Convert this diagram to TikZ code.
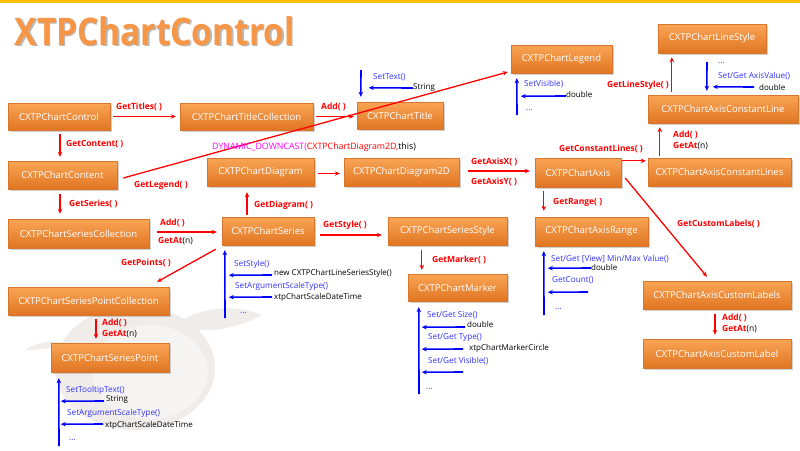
\documentclass[tikz,border=0pt]{standalone}
\usepackage{fontspec}
\usepackage{graphicx}
\setmainfont{Open Sans}
\usetikzlibrary{arrows.meta,shadows}
\definecolor{boxtop}{HTML}{F9A555}
\definecolor{boxbot}{HTML}{E07522}
\definecolor{boxline}{HTML}{D8762E}
\definecolor{rd}{HTML}{FF0000}
\definecolor{bl}{HTML}{0000FF}
\definecolor{bltext}{HTML}{3333FF}
\definecolor{mag}{HTML}{FF00FF}
\definecolor{gold}{HTML}{FFC000}
\definecolor{ttl}{HTML}{F79646}
\definecolor{apple}{HTML}{EFECEA}
\definecolor{applein}{HTML}{F6F4F3}
\tikzset{
 box/.style={rectangle, draw=boxline, line width=0.4pt, top color=boxtop, bottom color=boxbot, text=white,
   font=\fontsize{9.5}{11}\selectfont, inner sep=0pt,
   drop shadow={shadow xshift=1.5pt, shadow yshift=-1.5pt, opacity=0.35}},
 rarr/.style={draw=rd, line width=1.3pt, -{Stealth[length=5pt,width=4.5pt]}},
 barr/.style={draw=bl, line width=1.6pt, -{Stealth[length=5pt,width=4.5pt]}},
 rlab/.style={text=rd, font=\bfseries\fontsize{8.5}{10}\selectfont, inner sep=0pt, anchor=west},
 blab/.style={text=bltext, font=\fontsize{8.2}{9}\selectfont, inner sep=0pt, anchor=west},
 klab/.style={text=black, font=\fontsize{8}{9}\selectfont, inner sep=0pt, anchor=west},
 ttlstyle/.style={anchor=west, font=\bfseries\fontsize{38}{40}\selectfont, inner sep=0pt},
}
\newcommand{\getat}{\textcolor{rd}{GetAt}{\mdseries\color{black}(n)}}
\begin{document}
\begin{tikzpicture}[x=1pt,y=-1pt]
\useasboundingbox (0,0) rectangle (800,450);
\fill[white] (0,0) rectangle (800,450);
\fill[gold] (0,0) rectangle (800,2.5);
% faint background apple
\fill[apple] (135,368) ellipse [x radius=80, y radius=62];
\fill[applein] (150,372) ellipse [x radius=58, y radius=47];
\fill[apple] (175,325) .. controls (200,305) and (240,305) .. (262,315) .. controls (235,330) and (200,335) .. (175,325);
\fill[apple] (25,350) .. controls (40,340) and (60,340) .. (70,345) .. controls (55,347) and (40,350) .. (25,350);
% title
\node[ttlstyle, text=gray!55] (tshadow) at (16,32.5) {\scalebox{0.88}[1]{XTPChartControl}};
\node[ttlstyle, text=ttl] (maintitle) at (14.5,31) {\scalebox{0.88}[1]{XTPChartControl}};
% nodes
\node[box, minimum width=102, minimum height=27] (ctrl) at (59,116.5) {CXTPChartControl};
\node[box, minimum width=133, minimum height=27] (tcol) at (246.5,116.5) {CXTPChartTitleCollection};
\node[box, minimum width=86, minimum height=27] (title) at (400,115.5) {CXTPChartTitle};
\node[box, minimum width=101, minimum height=28] (legend) at (561.5,59) {CXTPChartLegend};
\node[box, minimum width=108, minimum height=29] (lstyle) at (712,38.5) {CXTPChartLineStyle};
\node[box, minimum width=150, minimum height=28] (cline) at (723,109) {CXTPChartAxisConstantLine};
\node[box, minimum width=109, minimum height=28] (content) at (62.5,175) {CXTPChartContent};
\node[box, minimum width=107, minimum height=28] (diagram) at (260.5,172) {CXTPChartDiagram};
\node[box, minimum width=115, minimum height=28] (diag2d) at (401.5,172) {CXTPChartDiagram2D};
\node[box, minimum width=86, minimum height=29] (axis) at (578,172.5) {CXTPChartAxis};
\node[box, minimum width=143, minimum height=28] (clines) at (719.5,172) {CXTPChartAxisConstantLines};
\node[box, minimum width=141, minimum height=29] (scol) at (78.5,233.5) {CXTPChartSeriesCollection};
\node[box, minimum width=92, minimum height=28] (series) at (268,231) {CXTPChartSeries};
\node[box, minimum width=119, minimum height=28] (sstyle) at (447.5,231.5) {CXTPChartSeriesStyle};
\node[box, minimum width=113, minimum height=29] (range) at (591.5,231.5) {CXTPChartAxisRange};
\node[box, minimum width=161, minimum height=28] (spcol) at (88.5,301) {CXTPChartSeriesPointCollection};
\node[box, minimum width=99, minimum height=27] (marker) at (457.5,287.5) {CXTPChartMarker};
\node[box, minimum width=148, minimum height=28] (clabels) at (717,295) {CXTPChartAxisCustomLabels};
\node[box, minimum width=118, minimum height=29] (spoint) at (110,357.5) {CXTPChartSeriesPoint};
\node[box, minimum width=148, minimum height=29] (clabel) at (717,353.5) {CXTPChartAxisCustomLabel};
% red connectors
\draw[rarr] ([shift={(3,0)}]ctrl.east) -- ([shift={(-4,0)}]tcol.west);
\node[rlab] (l1) at (116,107) {GetTitles( )};
\draw[rarr] ([shift={(3,0)}]tcol.east) -- ([shift={(-3,1)}]title.west);
\node[rlab] (l2) at (321,107) {Add( )};
\draw[rarr] ([shift={(1,4)}]ctrl.south) -- ([shift={(-2.5,-4)}]content.north);
\node[rlab] (l3) at (66,144) {GetContent( )};
\draw[rarr] ([shift={(6,3)}]content.east) -- ([shift={(-3,13)}]legend.west);
\node[rlab] (l4) at (134,185) {GetLegend( )};
\draw[rarr] ([shift={(-2.5,5)}]content.south) -- ([shift={(-18.5,-5)}]scol.north);
\node[rlab] (l5) at (69,204) {GetSeries( )};
\draw[rarr] ([shift={(8,-1.5)}]scol.east) -- ([shift={(-5,1)}]series.west);
\node[rlab] (l6a) at (160,223) {Add( )};
\node[rlab] (l6b) at (158,241) {\getat};
\draw[rarr] ([shift={(-21,-2)}]series.north) -- ([shift={(-13.5,6)}]diagram.south);
\node[rlab] (l7) at (254,205) {GetDiagram( )};
\draw[rarr] ([shift={(4,1.5)}]diagram.east) -- ([shift={(-4,1.5)}]diag2d.west);
\node[anchor=west, inner sep=0pt, font=\fontsize{8.8}{10}\selectfont] (dyn) at (212,147)
  {\textcolor{mag}{DYNAMIC\_DOWNCAST(}\textcolor{rd}{CXTPChartDiagram2D,}this)};
\draw[rarr] ([shift={(9,-1)}]diag2d.east) -- ([shift={(-5,-1.5)}]axis.west);
\node[rlab] (l10a) at (471,162) {GetAxisX( )};
\node[rlab] (l10b) at (471,182) {GetAxisY( )};
\draw[rarr] ([shift={(9,4)}]axis.south west) -- ([shift={(9,-6)}]range.north west);
\node[rlab] (l11) at (553,202) {GetRange( )};
\draw[rarr] ([shift={(1,3)}]axis.north east) -- ([shift={(-2,3)}]clines.north west);
\node[rlab] (l12) at (559,149) {GetConstantLines( )};
\draw[rarr] ([shift={(12,-2)}]clines.north west) -- ([shift={(12,4)}]cline.south west);
\node[rlab] (l13a) at (673,135) {Add( )};
\node[rlab] (l13b) at (673,146) {\getat};
\draw[rarr] ([shift={(24,-3)}]cline.north west) -- ([shift={(14,4)}]lstyle.south west);
\node[rlab, anchor=east] (l14) at (669,85) {GetLineStyle( )};
\draw[rarr] ([shift={(4,5.5)}]axis.east) -- ([shift={(-10,-4)}]clabels.north);
\node[rlab] (l15) at (677,224) {GetCustomLabels( )};
\draw[rarr] ([shift={(-2,5)}]clabels.south) -- ([shift={(-2,-4)}]clabel.north);
\node[rlab] (l16a) at (722,318) {Add( )};
\node[rlab] (l16b) at (722,329) {\getat};
\draw[rarr] ([shift={(-6,4)}]series.south west) -- ([shift={(-12,-5)}]spcol.north east);
\node[rlab] (l17) at (121,263) {GetPoints( )};
\draw[rarr] ([shift={(7.5,4)}]spcol.south) -- ([shift={(-14,-4)}]spoint.north);
\node[rlab] (l18a) at (102,323) {Add( )};
\node[rlab] (l18b) at (102,334) {\getat};
\draw[rarr] ([shift={(6,4)}]series.east) -- ([shift={(-6,3.5)}]sstyle.west);
\node[rlab] (l19) at (323,225) {GetStyle( )};
\draw[rarr] ([shift={(34,4)}]sstyle.south west) -- ([shift={(14,-4)}]marker.north west);
\node[rlab] (l20) at (432,260) {GetMarker( )};
% blue: title
\coordinate (ta) at (361,70);
\draw[barr] (ta) -- ([shift={(4,-5)}]title.north west);
\node[blab] (ta1) at (373,77) {SetText()};
\node[klab] (ta2) at (413,88) {String};
\draw[barr] (ta2.west) -- ([shift={(12,-14)}]title.north west);
% blue: legend
\coordinate (lb) at (517,115);
\draw[barr] (lb) -- ([shift={(6,5)}]legend.south west);
\node[blab] (lb1) at (524,84) {SetVisible)};
\node[klab] (lb2) at (566,94) {double};
\draw[barr] ([shift={(0,2)}]lb2.west) -- ([shift={(10,23)}]legend.south west);
\node[blab] (lb3) at (526,110) {...};
% blue: constant line
\coordinate (cc) at (707,62);
\draw[barr] (cc) -- ([shift={(59,-4)}]cline.north west);
\node[blab] (cc0) at (718,63) {...};
\node[blab] (cc1) at (718,76) {Set/Get AxisValue()};
\coordinate (cc2e) at (754,87);
\node[klab] (cc2) at (759,87) {double};
\draw[barr] (cc2e) -- ([shift={(65,-8)}]cline.north west);
% blue: series
\coordinate (sd) at (225,318);
\draw[barr] (sd) -- ([shift={(3,5)}]series.south west);
\node[blab] (sd1) at (234,264) {SetStyle()};
\node[klab] (sd2) at (274,273) {new CXTPChartLineSeriesStyle()};
\draw[barr] ([shift={(-2,2)}]sd2.west) -- ([shift={(7,30)}]series.south west);
\node[blab] (sd3) at (235,286) {SetArgumentScaleType()};
\node[klab] (sd4) at (274,297) {xtpChartScaleDateTime};
\draw[barr] ([shift={(-2,0)}]sd4.west) -- ([shift={(7,52)}]series.south west);
\node[blab] (sd5) at (240,313) {...};
% blue: range
\coordinate (re) at (544,315);
\draw[barr] (re) -- ([shift={(9,5)}]range.south west);
\node[blab] (re1) at (551,259) {Set/Get [View] Min/Max Value()};
\node[klab] (re2) at (591,267) {double};
\draw[barr] ([shift={(0,1)}]re2.west) -- ([shift={(13,22)}]range.south west);
\node[blab] (re3) at (552,280) {GetCount()};
\coordinate (re4) at (588,292);
\draw[barr] (re4) -- ([shift={(13,46)}]range.south west);
\node[blab] (re5) at (555,309) {...};
% blue: marker
\coordinate (mf) at (419,394);
\draw[barr] (mf) -- ([shift={(11,6)}]marker.south west);
\node[blab] (mf1) at (427,315) {Set/Get Size()};
\coordinate (mf2e) at (465,327);
\node[klab] (mf2) at (467,324) {double};
\draw[barr] (mf2e) -- ([shift={(14,26)}]marker.south west);
\node[blab] (mf3) at (428,338) {Set/Get Type()};
\node[klab] (mf4) at (469,348) {xtpChartMarkerCircle};
\coordinate (mf4e) at (463,349);
\draw[barr] (mf4e) -- ([shift={(14,48)}]marker.south west);
\node[blab] (mf5) at (428,361) {Set/Get Visible()};
\coordinate (mf6) at (463,372);
\draw[barr] (mf6) -- ([shift={(14,71)}]marker.south west);
\node[blab] (mf7) at (426,389) {...};
% blue: series point
\coordinate (pg) at (59,446);
\draw[barr] (pg) -- ([shift={(8,6)}]spoint.south west);
\node[blab] (pg1) at (66,390) {SetTooltipText()};
\node[klab] (pg2) at (106,400) {String};
\draw[barr] ([shift={(-2,1)}]pg2.west) -- ([shift={(10,29)}]spoint.south west);
\node[blab] (pg3) at (67,413) {SetArgumentScaleType()};
\node[klab] (pg4) at (105,425) {xtpChartScaleDateTime};
\draw[barr] ([shift={(-2,-1)}]pg4.west) -- ([shift={(10,52)}]spoint.south west);
\node[blab] (pg5) at (69,440) {...};
\end{tikzpicture}
\end{document}
